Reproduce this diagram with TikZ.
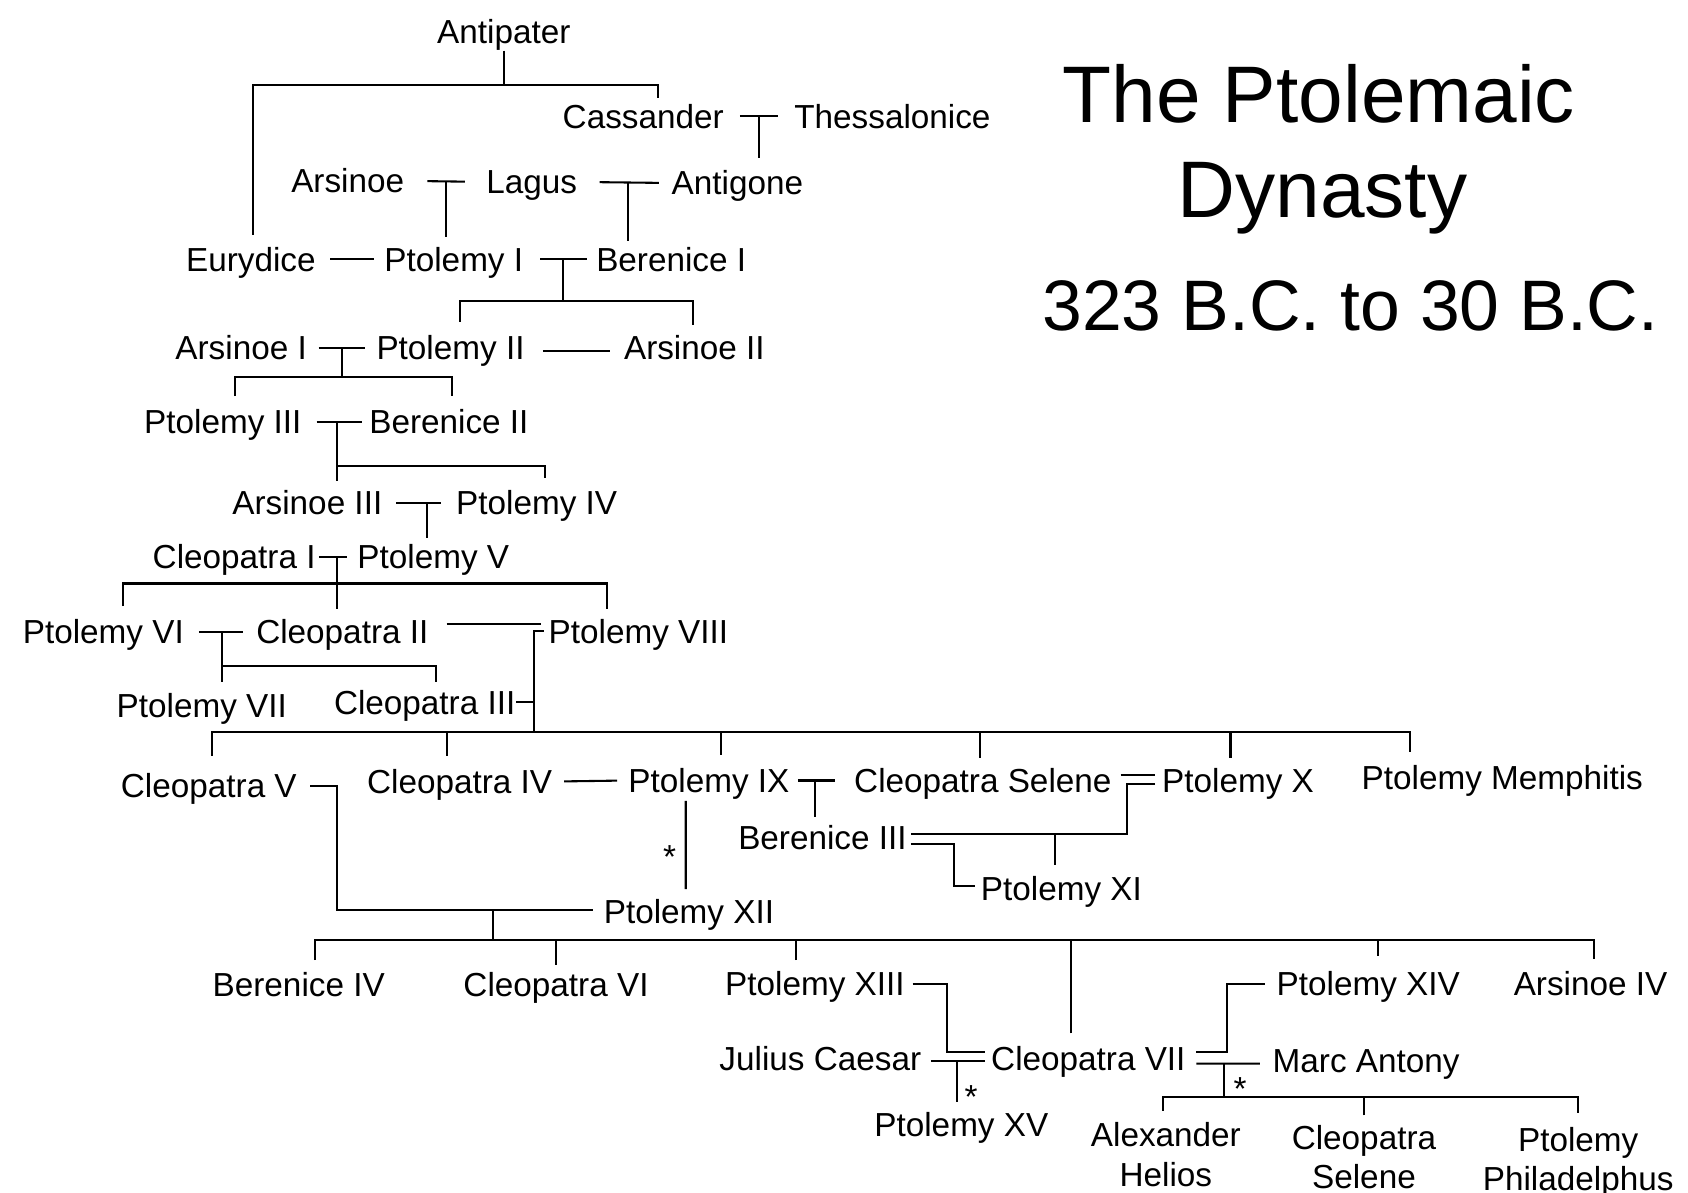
\documentclass[tikz,border=0pt]{standalone}
\usepackage{fontspec}
\setmainfont{Liberation Sans}

\begin{document}
\begin{tikzpicture}[x=0.1mm, y=-0.1mm, line width=0.55pt,
    person/.style={inner sep=0pt, text height=6.3pt, text depth=0pt, font=\fontsize{8.8}{10.5}\selectfont},
    pair/.style={inner sep=0pt, anchor=north, align=center, font=\fontsize{8.8}{10.5}\selectfont},
    heading/.style={inner sep=0pt, text depth=0pt, font=\fontsize{21.2}{25}\selectfont, text height=15.2pt}]

    \useasboundingbox (0,0) rectangle (1568,1108);

    \node[heading] (title) at (1225,87) {The Ptolemaic};
    \node[heading] (dynasty) at (1228.5,175) {Dynasty};
    \node[heading, font=\fontsize{18.9}{23}\selectfont, text height=13.5pt] (years) at (1254.5,283) {323 B.C. to 30 B.C.};

    \node[person] (antipater) at (468,29) {Antipater};
    \node[person] (cassander) at (597.5,108) {Cassander};
    \node[person] (thessalonice) at (829,108) {Thessalonice};
    \node[person] (arsinoe) at (323,168) {Arsinoe};
    \node[person] (lagus) at (494,169) {Lagus};
    \node[person] (antigone) at (685,170) {Antigone};
    \node[person] (eurydice) at (233,241) {Eurydice};
    \node[person] (ptolemyI) at (421.5,241) {Ptolemy I};
    \node[person] (bereniceI) at (623.5,241) {Berenice I};
    \node[person] (arsinoeI) at (224,323) {Arsinoe I};
    \node[person] (ptolemyII) at (418.5,323) {Ptolemy II};
    \node[person] (arsinoeII) at (645,323) {Arsinoe II};
    \node[person] (ptolemyIII) at (207,392) {Ptolemy III};
    \node[person] (bereniceII) at (417,392) {Berenice II};
    \node[person] (arsinoeIII) at (285.5,467) {Arsinoe III};
    \node[person] (ptolemyIV) at (498.5,467) {Ptolemy IV};
    \node[person] (cleopatraI) at (217.5,517) {Cleopatra I};
    \node[person] (ptolemyV) at (402.5,517) {Ptolemy V};
    \node[person] (ptolemyVI) at (96,587) {Ptolemy VI};
    \node[person] (cleopatraII) at (318,587) {Cleopatra II};
    \node[person] (ptolemyVIII) at (593,587) {Ptolemy VIII};
    \node[person] (ptolemyVII) at (187.5,655) {Ptolemy VII};
    \node[person] (cleopatraIII) at (394.5,653) {Cleopatra III};
    \node[person] (cleopatraV) at (194,730) {Cleopatra V};
    \node[person] (cleopatraIV) at (427,726) {Cleopatra IV};
    \node[person] (ptolemyIX) at (658.5,725) {Ptolemy IX};
    \node[person] (selene) at (913,725) {Cleopatra Selene};
    \node[person] (ptolemyX) at (1150,725) {Ptolemy X};
    \node[person] (memphitis) at (1395.5,722) {Ptolemy Memphitis};
    \node[person] (bereniceIII) at (764,778) {Berenice III};
    \node[person] (ptolemyXI) at (986,825) {Ptolemy XI};
    \node[person] (ptolemyXII) at (640,847) {Ptolemy XII};
    \node[person] (bereniceIV) at (277.5,915) {Berenice IV};
    \node[person] (cleopatraVI) at (516.5,915) {Cleopatra VI};
    \node[person] (ptolemyXIII) at (757,914) {Ptolemy XIII};
    \node[person] (ptolemyXIV) at (1271,914) {Ptolemy XIV};
    \node[person] (arsinoeIV) at (1477.5,914) {Arsinoe IV};
    \node[person] (caesar) at (762,983) {Julius Caesar};
    \node[person] (cleopatraVII) at (1011,983) {Cleopatra VII};
    \node[person] (antony) at (1269,985) {Marc Antony};
    \node[person] (ptolemyXV) at (893,1045) {Ptolemy XV};
    \node[pair] (helios) at (1083,1042) {Alexander\\Helios};
    \node[pair] (seleneII) at (1267,1044) {Cleopatra\\Selene};
    \node[pair] (philadelphus) at (1466,1046) {Ptolemy\\Philadelphus};
    \node[person] (star1) at (622,796) {*};
    \node[person] (star2) at (902,1019) {*};
    \node[person] (star3) at (1152,1011) {*};

    \coordinate (b1) at (468,79);
    \coordinate (j2) at (705,108);
    \coordinate (j3) at (414,168);
    \coordinate (j4) at (583,169);
    \coordinate (j5) at (523,241);
    \coordinate (b5) at (523,280);
    \coordinate (j6) at (318,323);
    \coordinate (b6) at (318,350.5);
    \coordinate (j7) at (313,392);
    \coordinate (b7) at (313,433);
    \coordinate (j8) at (397,467);
    \coordinate (j9) at (313,517);
    \coordinate (b9) at (313,542);
    \coordinate (j10) at (206,587);
    \coordinate (b10) at (206,619);
    \coordinate (j11) at (496,652);
    \coordinate (b11) at (496,680);
    \coordinate (j12) at (757,725);
    \coordinate (j13) at (1047,775);
    \coordinate (j14) at (886,823);
    \coordinate (j15) at (980,775);
    \coordinate (j16) at (313,845);
    \coordinate (b16) at (458,873);
    \coordinate (j17) at (880,977);
    \coordinate (j18) at (889,986);
    \coordinate (j19) at (1140,914);
    \coordinate (j20) at (1137,988);
    \coordinate (b20) at (1137,1019);

    \draw[shorten <=0.6mm] (antipater.south) -- (b1);
    \draw[shorten <=1.1mm, shorten >=0.5mm] ([xshift=0.2mm]eurydice.north) |- (b1) -| ([xshift=1.35mm]cassander.north);

    \draw[shorten <=1.4mm, shorten >=1.4mm] (cassander.east) -- (thessalonice.west);
    \draw[shorten >=1.15mm] (j2) -- (j2 |- antigone.north);

    \draw[shorten <=2.05mm, shorten >=1.9mm] (arsinoe.east) -- (lagus.west);
    \draw[shorten >=0.9mm] (j3) -- (j3 |- ptolemyI.north);
    \draw[shorten <=2mm, shorten >=1.1mm] (lagus.east) -- (antigone.west);
    \draw[shorten >=0.55mm] (j4) -- (j4 |- bereniceI.north);

    \draw[shorten <=1.25mm, shorten >=0.9mm] (eurydice.east) -- (ptolemyI.west);
    \draw[shorten <=1.5mm, shorten >=0.8mm] (ptolemyI.east) -- (bereniceI.west);
    \draw (j5) -- (b5);
    \draw[shorten <=1.2mm, shorten >=0.95mm] ([xshift=0.85mm]ptolemyII.north) |- (b5) -| ([xshift=-0.1mm]arsinoeII.north);

    \draw[shorten <=1mm, shorten >=0.95mm] (arsinoeI.east) -- (ptolemyII.west);
    \draw[shorten <=1.6mm, shorten >=1.25mm] ([yshift=-0.3mm]ptolemyII.east) -- ([yshift=-0.3mm]arsinoeII.west);
    \draw (j6) -- (b6);
    \draw[shorten <=1.2mm, shorten >=1.2mm] ([xshift=1.1mm]ptolemyIII.north) |- (b6) -| ([xshift=0.3mm]bereniceII.north);

    \draw[shorten <=1.3mm, shorten >=0.55mm] (ptolemyIII.east) -- (bereniceII.west);
    \draw[shorten >=0.8mm] (j7) -- (j7 |- arsinoeIII.north);
    \draw[shorten >=1.1mm] (b7) -| ([xshift=0.75mm]ptolemyIV.north);

    \draw[shorten <=1.2mm, shorten >=1.35mm] (arsinoeIII.east) -- (ptolemyIV.west);
    \draw[shorten >=0.5mm] (j8) -- (j8 |- ptolemyV.north);

    \draw[shorten <=0.2mm, shorten >=0.9mm] (cleopatraI.east) -- (ptolemyV.west);
    \draw[shorten >=0.9mm] (j9) -- (j9 |- cleopatraII.north);
    \draw[shorten <=1.2mm, shorten >=0.95mm] ([xshift=1.8mm]ptolemyVI.north) |- (b9) -| ([xshift=-2.9mm]ptolemyVIII.north);

    \draw[shorten <=1.3mm, shorten >=1.15mm] (ptolemyVI.east) -- (cleopatraII.west);
    \draw[shorten >=0.9mm] (j10) -- (j10 |- ptolemyVII.north);
    \draw[shorten >=0.7mm] (b10) -| ([xshift=1.05mm]cleopatraIII.north);

    \draw[shorten <=1.6mm, shorten >=0.6mm] ([yshift=0.7mm]cleopatraII.east) -- ([yshift=0.7mm]ptolemyVIII.west);
    \draw[shorten <=0.35mm] ([yshift=0.1mm]ptolemyVIII.west) -| (j11) -- (j11 -| cleopatraIII.east);
    \draw (j11) -- (b11);
    \draw[shorten <=1.6mm, shorten >=1.1mm] ([xshift=0.3mm]cleopatraV.north) |- (b11) -| ([xshift=-8.55mm]memphitis.north);
    \draw[shorten <=1.2mm] ([xshift=-1.2mm]cleopatraIV.north) |- (b11);
    \draw[shorten <=1.2mm] ([xshift=1.15mm]ptolemyIX.north) |- (b11);
    \draw[shorten <=0.9mm] ([xshift=-0.3mm]selene.north) |- (b11);
    \draw[shorten <=0.9mm] ([xshift=-0.7mm]ptolemyX.north) |- (b11);

    \draw[shorten <=1mm, shorten >=0.95mm] (cleopatraIV.east) -- (ptolemyIX.west);
    \draw[shorten <=0.7mm, shorten >=0.9mm] ([xshift=-2.15mm]ptolemyIX.south) -- ([xshift=-0.3mm]ptolemyXII.north);

    \draw[shorten <=0.7mm, shorten >=1.65mm] (ptolemyIX.east) -- (selene.west);
    \draw[shorten >=0.7mm] (j12) -- (j12 |- bereniceIII.north);

    \draw[shorten <=0.75mm, shorten >=0.55mm] ([yshift=0.5mm]selene.east) -- ([yshift=0.5mm]ptolemyX.west);
    \draw[shorten <=0.55mm, shorten >=0.3mm] ([yshift=-0.3mm]ptolemyX.west) -| (j13) -- (j13 -| bereniceIII.east);
    \draw[shorten <=0.3mm, shorten >=0.5mm] ([yshift=-0.6mm]bereniceIII.east) -| (j14) -- (j14 -| ptolemyXI.west);
    \draw[shorten >=0.9mm] (j15) -- (j15 |- ptolemyXI.north);

    \draw[shorten <=1.15mm, shorten >=0.9mm] (cleopatraV.east) -| (j16) -- (j16 -| ptolemyXII.west);
    \draw (j16 -| b16) -- (b16);
    \draw[shorten <=1.1mm, shorten >=1.1mm] ([xshift=1.55mm]bereniceIV.north) |- (b16) -| ([xshift=0.35mm]arsinoeIV.north);
    \draw[shorten <=0.7mm] (cleopatraVI.north) |- (b16);
    \draw[shorten <=1mm] ([xshift=-1.8mm]ptolemyXIII.north) |- (b16);
    \draw[shorten <=1.1mm] ([xshift=-1.6mm]cleopatraVII.north) |- (b16);
    \draw[shorten <=1.4mm] ([xshift=0.9mm]ptolemyXIV.north) |- (b16);

    \draw[shorten <=0.65mm, shorten >=0.45mm] (ptolemyXIII.east) -| (j17) -- (j17 -| cleopatraVII.west);
    \draw[shorten <=0.8mm, shorten >=0.45mm] ([yshift=-0.3mm]caesar.east) -- ([yshift=-0.3mm]cleopatraVII.west);
    \draw[shorten >=0.9mm] (j18) -- (j18 |- ptolemyXV.north);

    \draw[shorten <=0.9mm, shorten >=1mm] ([yshift=0.6mm]cleopatraVII.east) -| (j19) -- (j19 -| ptolemyXIV.west);
    \draw[shorten <=0.9mm, shorten >=1.1mm] ([yshift=-0.5mm]cleopatraVII.east) -- ([yshift=-0.3mm]antony.west);
    \draw (j20) -- (b20);
    \draw[shorten <=1mm, shorten >=1.2mm] ([xshift=-0.3mm]helios.north) |- (b20) -| (philadelphus.north);
    \draw[shorten <=0.8mm] (seleneII.north) |- (b20);
\end{tikzpicture}
\end{document}
